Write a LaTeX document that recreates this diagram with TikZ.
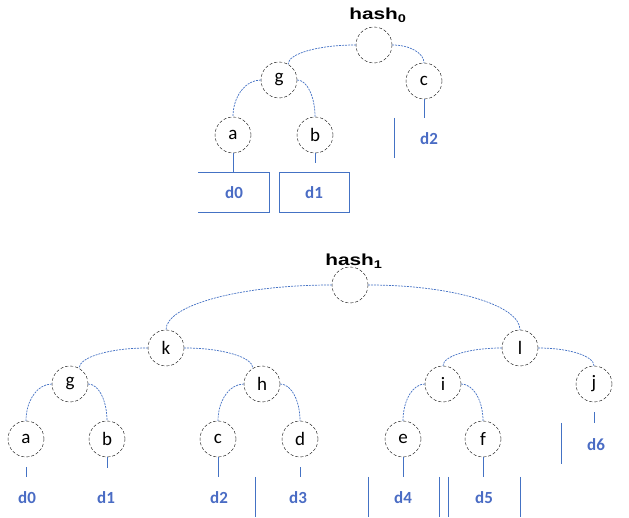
\documentclass[tikz,border=0pt]{standalone}
\usepackage{fontspec}
\usetikzlibrary{calc}
\setmainfont{Carlito}
\newfontfamily\hashfont{Liberation Sans}
\definecolor{wireblue}{HTML}{4472C4}
\definecolor{labelblue}{HTML}{4A6CC4}
\begin{document}
\begin{tikzpicture}[x=1pt,y=1pt,
	hnode/.style={circle,draw,densely dashed,thin,minimum size=36pt,inner sep=0pt,font=\fontsize{19}{19}\selectfont},
	wire/.style={wireblue,dash pattern=on 2pt off 1pt,line width=0.7pt,
		to path={.. controls ($(\tikztostart)!0.552!(\tikztotarget|-\tikztostart)$)
			and ($(\tikztotarget)!0.552!(\tikztotarget|-\tikztostart)$) .. (\tikztotarget)}},
	bar/.style={wireblue,line width=1pt},
	dlabel/.style={text=labelblue,font=\bfseries\fontsize{17}{17}\selectfont},
	hlabel/.style={font=\hashfont\bfseries\fontsize{16}{16}\selectfont}]
	\useasboundingbox (0,0) rectangle (629,518);
	% hash_0
	\node[hlabel] at (378,503) {\scalebox{1.3}[1]{hash\textsubscript{0}}};
	\node[hnode] (r0) at (374,473) {};
	\node[hnode] (g0) at (279,438) {g};
	\node[hnode] (c0) at (424,437) {c};
	\node[hnode] (a0) at (233,383) {a};
	\node[hnode] (b0) at (315,383) {b};
	\node[dlabel] (d0) at (234,325) {d0};
	\node[dlabel] (d1) at (314,325) {d1};
	\node[dlabel] (d2) at (429,379) {d2};
	\draw[wire] (r0.west) to (g0.60);
	\draw[wire] (r0.east) to (c0.north);
	\draw[wire] (g0.west) to (a0.north);
	\draw[wire] (g0.east) to (b0.north);
	\draw[bar] (198,345) -| (269,305) -- (198,305);
	\draw[bar] (279,305) rectangle (349,345);
	\draw[bar] (a0.south) -- (a0.south |- 0,345);
	\draw[bar] (b0.south) -- (b0.south |- 0,355);
	\draw[bar,shorten >=11pt] (c0.south) -- (c0.south |- d2.north);
	\draw[bar] (394,400) -- (394,360);
	% hash_1
	\node[hlabel] at (354,257) {\scalebox{1.3}[1]{hash\textsubscript{1}}};
	\node[hnode] (r1) at (350,233) {};
	\node[hnode] (k1) at (166,170) {k};
	\node[hnode] (l1) at (520,170) {l};
	\node[hnode] (g1) at (70,134) {g};
	\node[hnode] (h1) at (262,134) {h};
	\node[hnode] (i1) at (443,134) {i};
	\node[hnode] (j1) at (594,134) {j};
	\node[hnode] (a1) at (26,79) {a};
	\node[hnode] (b1) at (107,79) {b};
	\node[hnode] (c1) at (218,79) {c};
	\node[hnode] (dd1) at (300,79) {d};
	\node[hnode] (e1) at (403,79) {e};
	\node[hnode] (f1) at (483,79) {f};
	\node[dlabel] (d01) at (27,20) {d0};
	\node[dlabel] (d11) at (106,20) {d1};
	\node[dlabel] (d21) at (219,20) {d2};
	\node[dlabel] (d31) at (298,20) {d3};
	\node[dlabel] (d41) at (403,20) {d4};
	\node[dlabel] (d51) at (484,20) {d5};
	\node[dlabel] (d61) at (596,73) {d6};
	\draw[wire] (r1.west) to (k1.north);
	\draw[wire] (r1.east) to (l1.north);
	\draw[wire] (k1.west) to (g1.60);
	\draw[wire] (k1.east) to (h1.120);
	\draw[wire] (l1.west) to (i1.north);
	\draw[wire] (l1.east) to (j1.north);
	\draw[wire] (g1.west) to (a1.north);
	\draw[wire] (g1.east) to (b1.north);
	\draw[wire] (h1.west) to (c1.north);
	\draw[wire] (h1.east) to (dd1.north);
	\draw[wire] (i1.west) to (e1.north);
	\draw[wire] (i1.east) to (f1.north);
	\draw[bar,shorten <=10pt] (a1.south) -- (a1.south |- 0,41);
	\draw[bar] (b1.south) -- (b1.south |- 0,50);
	\draw[bar] (c1.south) -- (c1.south |- 0,41);
	\draw[bar,shorten <=10pt] (dd1.south) -- (dd1.south |- 0,41);
	\draw[bar] (e1.south) -- (e1.south |- 0,41);
	\draw[bar] (f1.south) -- (f1.south |- 0,41);
	\draw[bar,shorten <=10pt] (j1.south) -- (j1.south |- 0,95);
	\foreach \x in {255,368,439,448,520}
		\draw[bar] (\x,41) -- (\x,1);
	\draw[bar] (561,95) -- (561,54);
\end{tikzpicture}
\end{document}
